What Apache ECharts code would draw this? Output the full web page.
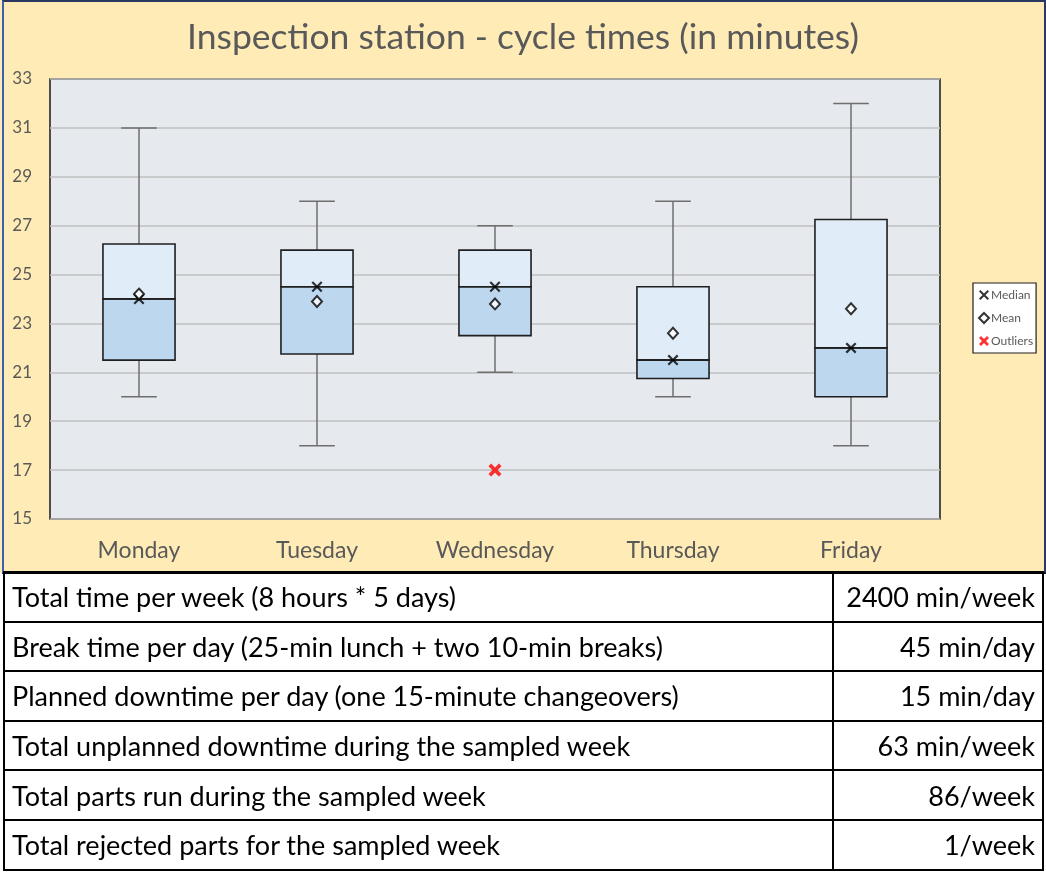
<!DOCTYPE html>
<html>
<head>
<meta charset="utf-8">
<script src="https://cdn.jsdelivr.net/npm/echarts@6/dist/echarts.min.js"></script>
<style>
  html, body { margin: 0; padding: 0; background: #ffffff; }
  #wrap { position: relative; width: 1046px; height: 873px; }
  #chart { position: absolute; left: 0; top: 0; width: 1046px; height: 573px; background: #FFEBB5; }
  #frame { position: absolute; left: 2px; top: 0; width: 1040px; height: 570px;
           border-top: 2px solid #2B3760; border-left: 2px solid #3F5FB0;
           border-right: 2px solid #2B3760; border-bottom: 2px solid #000;
           pointer-events: none; }
  #tbl { position: absolute; left: 3px; top: 571px; width: 1041px; border-collapse: collapse;
         font-family: Lato, "Open Sans", sans-serif; font-size: 27px; color: #000; }
  #tbl tr { height: 49.6px; }
  #tbl td { border: 2px solid #000; padding: 0 7px 0 7px; white-space: nowrap; }
  #tbl td.v { text-align: right; width: 194px; }
</style>
</head>
<body>
<div id="wrap">
  <div id="chart"></div>
  <div id="frame"></div>
  <table id="tbl"></table>
</div>
<script>
var categories = ['Monday', 'Tuesday', 'Wednesday', 'Thursday', 'Friday'];
var minValues = [20, 18, 21, 20, 18];
var q1Values = [21.5, 21.75, 22.5, 20.75, 20];
var medianValues = [24, 24.5, 24.5, 21.5, 22];
var q3Values = [26.25, 26, 26, 24.5, 27.25];
var maxValues = [31, 28, 27, 28, 32];
var meanValues = [24.2, 23.9, 23.8, 22.6, 23.6];
var outlierCategories = ['Wednesday'];
var outlierValues = [17];
var yTicks = { min: 15, max: 33, interval: 2 };

var tableLabels = [
  'Total time per week (8 hours * 5 days)',
  'Break time per day (25-min lunch + two 10-min breaks)',
  'Planned downtime per day (one 15-minute changeovers)',
  'Total unplanned downtime during the sampled week',
  'Total parts run during the sampled week',
  'Total rejected parts for the sampled week'
];
var tableValues = ['2400 min/week', '45 min/day', '15 min/day', '63 min/week', '86/week', '1/week'];

// build table
var tbl = document.getElementById('tbl');
tableLabels.forEach(function (lab, i) {
  var tr = document.createElement('tr');
  var td1 = document.createElement('td'); td1.textContent = lab;
  var td2 = document.createElement('td'); td2.textContent = tableValues[i]; td2.className = 'v';
  tr.appendChild(td1); tr.appendChild(td2); tbl.appendChild(tr);
});

var boxData = categories.map(function (c, i) {
  return [i, minValues[i], q1Values[i], medianValues[i], q3Values[i], maxValues[i]];
});
var medianData = categories.map(function (c, i) { return [c, medianValues[i]]; });
var meanData = categories.map(function (c, i) { return [c, meanValues[i]]; });
var outlierData = outlierCategories.map(function (c, i) { return [c, outlierValues[i]]; });

var xPath = 'path://M0,1.4 L1.4,0 L5,3.6 L8.6,0 L10,1.4 L6.4,5 L10,8.6 L8.6,10 L5,6.4 L1.4,10 L0,8.6 L3.6,5 Z';
var xBoldPath = 'path://M0,2 L2,0 L5,3 L8,0 L10,2 L7,5 L10,8 L8,10 L5,7 L2,10 L0,8 L3,5 Z';

function renderBox(params, api) {
  var idx = api.value(0);
  var band = api.size([1, 0])[0];
  var boxW = band * 0.405;
  var capW = band * 0.2;
  var pMin = api.coord([idx, api.value(1)]);
  var pQ1 = api.coord([idx, api.value(2)]);
  var pMed = api.coord([idx, api.value(3)]);
  var pQ3 = api.coord([idx, api.value(4)]);
  var pMax = api.coord([idx, api.value(5)]);
  var cx = pMed[0];
  var whisk = { stroke: '#6E6E6E', lineWidth: 1.5 };
  var edge = { stroke: '#1F1F1F', lineWidth: 1.6 };
  return {
    type: 'group',
    children: [
      { type: 'line', shape: { x1: cx, y1: pMax[1], x2: cx, y2: pQ3[1] }, style: whisk },
      { type: 'line', shape: { x1: cx, y1: pQ1[1], x2: cx, y2: pMin[1] }, style: whisk },
      { type: 'line', shape: { x1: cx - capW / 2, y1: pMax[1], x2: cx + capW / 2, y2: pMax[1] }, style: whisk },
      { type: 'line', shape: { x1: cx - capW / 2, y1: pMin[1], x2: cx + capW / 2, y2: pMin[1] }, style: whisk },
      { type: 'rect', shape: { x: cx - boxW / 2, y: pQ3[1], width: boxW, height: pMed[1] - pQ3[1] },
        style: { fill: '#E0ECF7', stroke: '#1F1F1F', lineWidth: 1.6 } },
      { type: 'rect', shape: { x: cx - boxW / 2, y: pMed[1], width: boxW, height: pQ1[1] - pMed[1] },
        style: { fill: '#BDD7EE', stroke: '#1F1F1F', lineWidth: 1.6 } },
      { type: 'line', shape: { x1: cx - boxW / 2, y1: pMed[1], x2: cx + boxW / 2, y2: pMed[1] }, style: edge }
    ]
  };
}

var chart = echarts.init(document.getElementById('chart'), null, { renderer: 'canvas' });
chart.setOption({
  backgroundColor: '#FFEBB5',
  animation: false,
  title: {
    text: 'Inspection station - cycle times (in minutes)',
    left: 'center',
    top: 15,
    textStyle: { fontFamily: 'Lato', fontSize: 35.5, fontWeight: 'normal', color: '#595959' }
  },
  legend: {
    data: ['Median', 'Mean', 'Outliers'],
    orient: 'vertical',
    left: 973,
    top: 283,
    padding: [6, 3, 6, 5],
    itemGap: 11,
    itemWidth: 10,
    itemHeight: 10,
    backgroundColor: '#FFFFFF',
    borderColor: '#1F1F1F',
    borderWidth: 1.2,
    textStyle: { fontFamily: 'Lato', fontSize: 12, color: '#595959', padding: [0, 0, 0, -3] }
  },
  grid: {
    show: true,
    left: 50, top: 79, right: 106, bottom: 54,
    backgroundColor: '#E6E9EE',
    borderColor: '#262626',
    borderWidth: 1.6
  },
  xAxis: {
    type: 'category',
    data: categories,
    axisLine: { show: false },
    axisTick: { show: false },
    splitLine: { show: false },
    axisLabel: { fontFamily: 'Lato', fontSize: 23, color: '#595959', margin: 20 }
  },
  yAxis: {
    type: 'value',
    min: yTicks.min, max: yTicks.max, interval: yTicks.interval,
    axisLine: { show: false },
    axisTick: { show: false },
    axisLabel: { fontFamily: 'Lato', fontSize: 17, color: '#595959', margin: 18 },
    splitLine: { lineStyle: { color: '#BFBFBF', width: 1.5 } }
  },
  series: [
    {
      type: 'custom',
      name: 'Box',
      renderItem: renderBox,
      data: boxData,
      encode: { x: 0, y: [1, 2, 3, 4, 5] },
      z: 2
    },
    {
      type: 'scatter', name: 'Median', data: medianData, z: 4,
      symbol: xPath, symbolSize: 11,
      itemStyle: { color: '#000000' }
    },
    {
      type: 'scatter', name: 'Mean', data: meanData, z: 5,
      symbol: 'diamond', symbolSize: [10, 11],
      itemStyle: { color: '#FFFFFF', borderColor: '#000000', borderWidth: 2 }
    },
    {
      type: 'scatter', name: 'Outliers', data: outlierData, z: 4,
      symbol: xBoldPath, symbolSize: 13,
      itemStyle: { color: '#FF0000' }
    }
  ]
});
</script>
</body>
</html>
